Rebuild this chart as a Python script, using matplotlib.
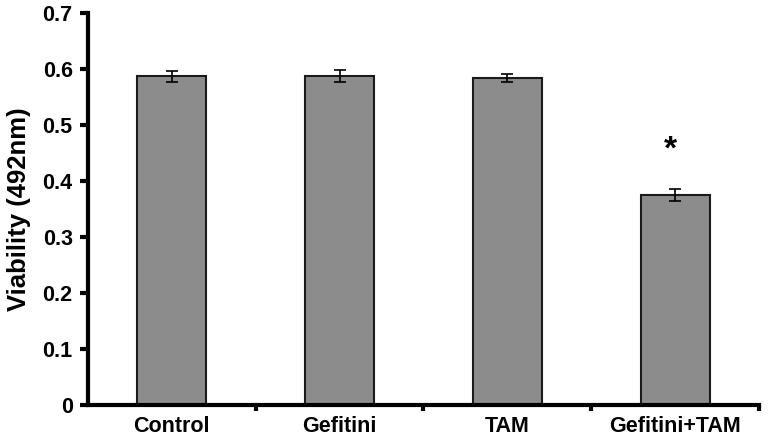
import matplotlib
matplotlib.use("Agg")
import matplotlib.pyplot as plt
import numpy as np

categories = ["Control", "Gefitini", "TAM", "Gefitini+TAM"]
values = [0.587, 0.587, 0.584, 0.375]
errors = [0.010, 0.011, 0.008, 0.010]
stars = ["", "", "", "*"]
yticks = [0, 0.1, 0.2, 0.3, 0.4, 0.5, 0.6, 0.7]

plt.rcParams['font.family'] = ['Liberation Sans', 'DejaVu Sans']
plt.rcParams['font.weight'] = 'bold'

fig = plt.figure(figsize=(7.69, 4.37), dpi=100)
ax = fig.add_axes([0.1144, 0.0732, 0.8726, 0.8970])

x = np.arange(len(categories))
ax.bar(x, values, width=0.41, color="#8c8c8c", edgecolor="#1a1a1a", linewidth=1.5,
       yerr=errors, error_kw=dict(ecolor="black", elinewidth=1.2, capsize=4, capthick=1.2), zorder=2)

for xi, v, e, s in zip(x, values, errors, stars):
    if s:
        ax.text(xi - 0.03, v + e + 0.07, s, ha="center", va="center", fontsize=24, fontweight="bold")

ax.set_xlim(-0.5, len(categories) - 0.5)
ax.set_ylim(0, 0.7)
ax.set_yticks(yticks)
ax.set_yticklabels([f"{t:g}" for t in yticks], fontsize=15.5, fontweight="bold")
ax.set_xticks(x)
ax.set_xticklabels(categories, fontsize=15.5, fontweight="bold")
ax.set_xticks(np.arange(len(categories)) + 0.5, minor=True)
ax.tick_params(axis="x", which="major", length=0, pad=8)
ax.tick_params(axis="x", which="minor", length=4, width=3, direction="out")
ax.tick_params(axis="y", which="major", length=6, width=3, direction="out", pad=5)
ax.set_ylabel("Viability (492nm)", fontsize=18.5, fontweight="bold", labelpad=8)

for side in ["top", "right"]:
    ax.spines[side].set_visible(False)
for side in ["left", "bottom"]:
    ax.spines[side].set_linewidth(3)

fig.savefig("out.png", dpi=100)
